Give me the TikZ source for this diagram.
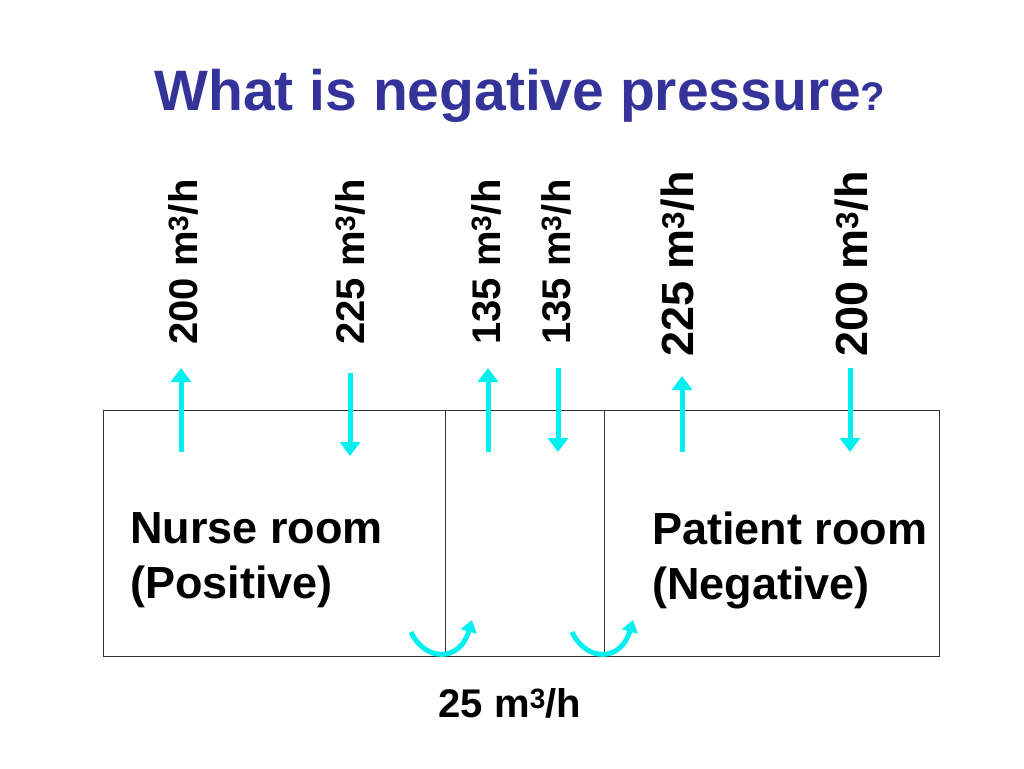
\documentclass[tikz,border=0pt]{standalone}
\usepackage{fontspec}
\setmainfont{Liberation Sans}
\usetikzlibrary{arrows.meta}
\definecolor{ttl}{RGB}{51,51,153}
\definecolor{cy}{RGB}{0,240,240}
\tikzset{room/.style={draw=black!80,line width=0.8pt},
 flow/.style={draw=cy,line width=5pt,-{Triangle[length=14pt,width=20pt]}},
 lbl/.style={rotate=90,font=\fontsize{40}{44}\selectfont\bfseries,inner sep=0},
 lblb/.style={rotate=90,font=\fontsize{45}{50}\selectfont\bfseries,inner sep=0},
 txt/.style={font=\fontsize{45}{55}\selectfont\bfseries,align=left,inner sep=0,anchor=north west}}
\begin{document}
\begin{tikzpicture}[x=1pt,y=-1pt]
\useasboundingbox (0,0) rectangle (1024,768);
\node[font=\fontsize{57}{60}\selectfont\bfseries,text=ttl] (title) at (520,96) {What is negative pressure{\fontsize{40}{40}\selectfont ?}};
\draw[room] (103,410) rectangle (445,656);
\draw[room] (445,410) rectangle (604,656);
\draw[room] (604,410) rectangle (939,656);
\draw[room] (430,410) -- (445,410);
\coordinate (a1) at (181,452); \coordinate (b1) at (181,368);
\coordinate (a2) at (350,373); \coordinate (b2) at (350,456);
\coordinate (a3) at (488,452); \coordinate (b3) at (488,368);
\coordinate (a4) at (558,368); \coordinate (b4) at (558,452);
\coordinate (a5) at (682,452); \coordinate (b5) at (682,376);
\coordinate (a6) at (850,368); \coordinate (b6) at (850,452);
\foreach \i in {1,...,6} \draw[flow] (a\i) -- (b\i);
\node[lbl] (l1) at (183,262) {200 m\textsuperscript{3}/h};
\node[lbl] (l2) at (350,262) {225 m\textsuperscript{3}/h};
\node[lbl] (l3) at (486,262) {135 m\textsuperscript{3}/h};
\node[lbl] (l4) at (556,262) {135 m\textsuperscript{3}/h};
\node[lblb] (l5) at (678,264) {225 m\textsuperscript{3}/h};
\node[lblb] (l6) at (852,264) {200 m\textsuperscript{3}/h};
\node[txt] (nr) at (130,512) {Nurse room\\(Positive)};
\node[txt] (pr) at (652,512) {Patient room\\(Negative)};
\coordinate (c1) at (411,632); \coordinate (d1) at (472,620);
\coordinate (c2) at (572,632); \coordinate (d2) at (633,620);
\draw[draw=cy,line width=5pt,-{Triangle[length=12pt,width=16pt]}] (c1) .. controls (425,662) and (460,662) .. (d1);
\draw[draw=cy,line width=5pt,-{Triangle[length=12pt,width=16pt]}] (c2) .. controls (586,662) and (621,662) .. (d2);
\node[font=\fontsize{40}{44}\selectfont\bfseries] (bot) at (510,703) {25 m\textsuperscript{3}/h};
\end{tikzpicture}
\end{document}
